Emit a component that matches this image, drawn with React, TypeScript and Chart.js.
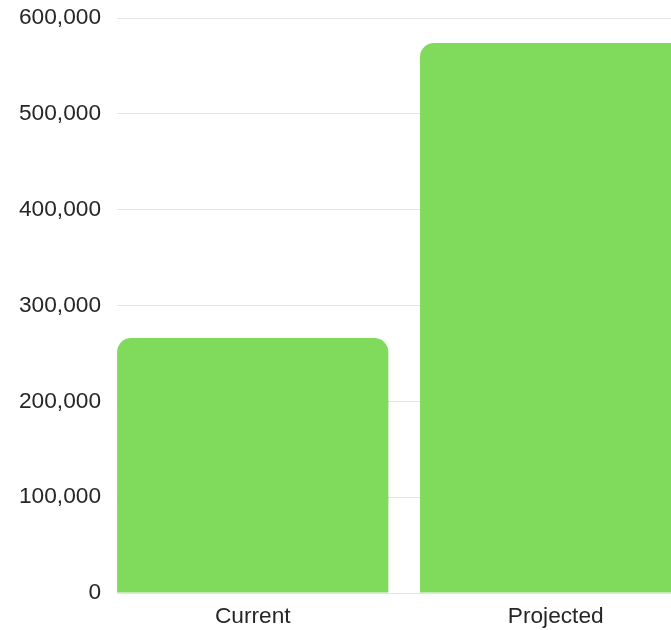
import React, { useEffect, useRef } from "react";
import { Chart, registerables } from "chart.js";

Chart.register(...registerables);

// Categories and their values
const categories: string[] = ["Current", "Projected"];
const values: number[] = [266000, 574000];

// Value axis ticks
const yTicks: number[] = [0, 100000, 200000, 300000, 400000, 500000, 600000];

const BAR_COLOR = "#80DA5C";
const GRID_COLOR = "#E4E4E4";
const TEXT_COLOR = "#262626";
const FONT_FAMILY = "'Liberation Sans', Arial, Helvetica, sans-serif";
const FONT_SIZE = 22.7;

export default function App() {
  const canvasRef = useRef<HTMLCanvasElement | null>(null);

  useEffect(() => {
    const canvas = canvasRef.current;
    if (!canvas) return;

    const points = categories.map((_, i) => ({ x: i, y: values[i] }));

    const chart = new Chart(canvas, {
      type: "bar",
      data: {
        datasets: [
          {
            data: points as any,
            backgroundColor: BAR_COLOR,
            borderWidth: 0,
            borderRadius: 14,
            borderSkipped: "bottom",
            categoryPercentage: 1,
            barPercentage: 0.8955,
          },
        ],
      },
      options: {
        responsive: false,
        animation: false,
        devicePixelRatio: 1,
        layout: { padding: { left: 18, top: 18, right: 0, bottom: 0 } },
        plugins: {
          legend: { display: false },
          tooltip: { enabled: false },
        },
        scales: {
          x: {
            type: "linear",
            min: -0.448,
            max: 1.3805,
            offset: false,
            grid: { display: false, drawTicks: false },
            border: { display: false },
            afterBuildTicks: (scale: any) => {
              scale.ticks = categories.map((_, i) => ({ value: i }));
            },
            afterFit: (scale: any) => {
              scale.height = 37;
            },
            ticks: {
              padding: 10,
              color: TEXT_COLOR,
              font: { family: FONT_FAMILY, size: FONT_SIZE },
              maxRotation: 0,
              callback: (v: any) => categories[Math.round(Number(v))] ?? "",
            },
          },
          y: {
            min: yTicks[0],
            max: yTicks[yTicks.length - 1],
            grid: { color: GRID_COLOR, drawTicks: false, lineWidth: 1 },
            border: { display: false },
            afterBuildTicks: (scale: any) => {
              scale.ticks = yTicks.map((v) => ({ value: v }));
            },
            afterFit: (scale: any) => {
              scale.width = 99;
              scale.paddingTop = 0;
              scale.paddingBottom = 0;
            },
            ticks: {
              padding: 16,
              color: TEXT_COLOR,
              font: { family: FONT_FAMILY, size: FONT_SIZE },
              callback: (v: any) => Number(v).toLocaleString("en-US"),
            },
          },
        },
      },
    });

    return () => chart.destroy();
  }, []);

  return (
    <div
      style={{
        position: "fixed",
        left: 0,
        top: 0,
        width: 671,
        height: 630,
        overflow: "hidden",
        background: "#ffffff",
      }}
    >
      <canvas ref={canvasRef} width={671} height={630} style={{ display: "block" }} />
    </div>
  );
}
